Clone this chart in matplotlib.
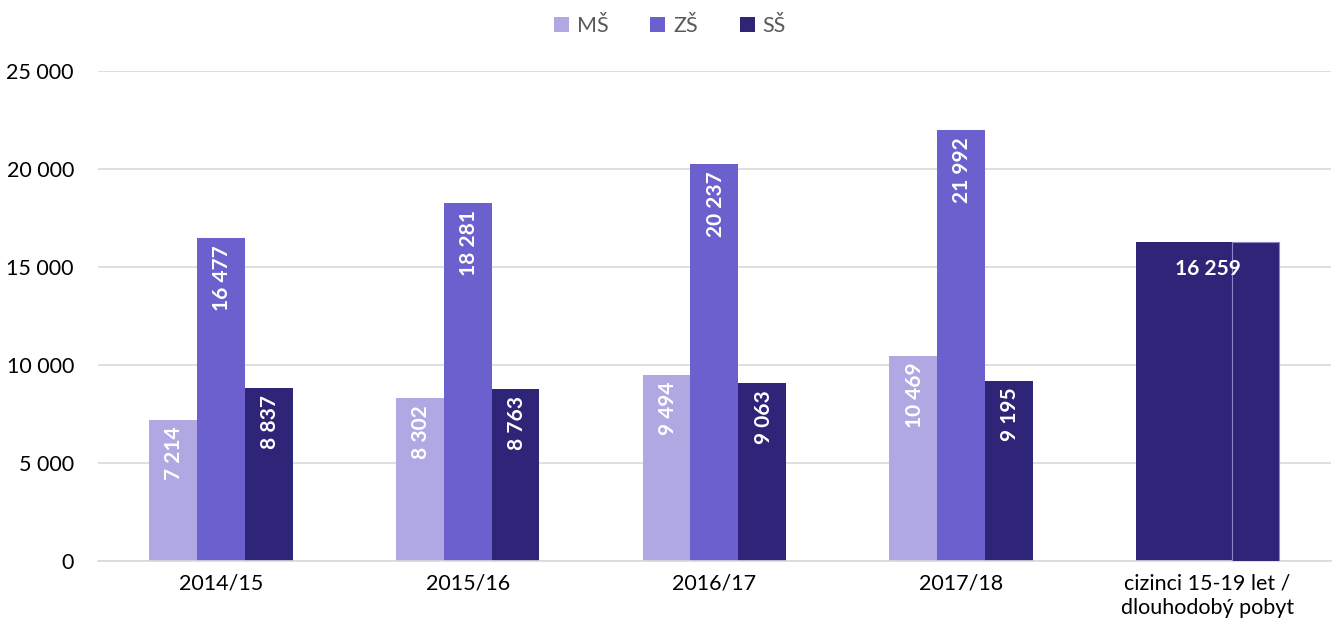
import matplotlib
matplotlib.use("Agg")
import matplotlib.pyplot as plt
import numpy as np

plt.rcParams['font.family'] = ['Lato', 'DejaVu Sans']

categories = ["2014/15", "2015/16", "2016/17", "2017/18", "cizinci 15-19 let /\ndlouhodobý pobyt"]
ms_vals = [7214, 8302, 9494, 10469]
zs_vals = [16477, 18281, 20237, 21992]
ss_vals = [8837, 8763, 9063, 9195]
foreign_val = 16259
yticks = [0, 5000, 10000, 15000, 20000, 25000]

def fmt(v):
    return f"{v:,}".replace(",", " ")

c_ms = "#B0A8E3"
c_zs = "#6B60CD"
c_ss = "#2E2578"

fig = plt.figure(figsize=(13.33, 6.33), dpi=100)
ax = fig.add_axes([0.0732, 0.1137, 0.9253, 0.7741])

x = np.arange(len(ms_vals))
w = 0.194

b1 = ax.bar(x - w, ms_vals, w, color=c_ms, label="MŠ", zorder=2)
b2 = ax.bar(x, zs_vals, w, color=c_zs, label="ZŠ", zorder=2)
b3 = ax.bar(x + w, ss_vals, w, color=c_ss, label="SŠ", zorder=2)

# last category: wide bar plus SŠ bar outline
xl = len(ms_vals)
ax.bar(xl, foreign_val, 3 * w, color=c_ss, zorder=2)
ax.bar(xl + w, foreign_val, w, color=c_ss, edgecolor="#8C84C8", linewidth=0.8, zorder=3)
ax.annotate(fmt(foreign_val), (xl, foreign_val), xytext=(0, -12), textcoords="offset points",
            ha="center", va="top", color="white", fontsize=15, fontweight="bold", zorder=4)

for bars, vals in [(b1, ms_vals), (b2, zs_vals), (b3, ss_vals)]:
    for bar, v in zip(bars, vals):
        ax.annotate(fmt(v), (bar.get_x() + bar.get_width() / 2, v), xytext=(1, -5),
                    textcoords="offset points", ha="center", va="top", rotation=90,
                    color="white", fontsize=15, fontweight="bold", zorder=4)

ax.set_xlim(-0.5, len(categories) - 0.5)
ax.set_ylim(0, 25000)
ax.set_yticks(yticks)
ax.set_yticklabels([fmt(v) for v in yticks], fontsize=15.5, color="#000000")
ax.set_xticks(np.arange(len(categories)))
ax.set_xticklabels(categories, fontsize=15.5, color="#000000", linespacing=1.25)
ax.tick_params(axis="both", length=0)
ax.tick_params(axis="y", pad=17)
ax.tick_params(axis="x", pad=9)
ax.grid(axis="y", color="#D9D9D9", linewidth=1.2, zorder=0)
ax.set_axisbelow(True)
for s in ["top", "right", "left"]:
    ax.spines[s].set_visible(False)
ax.spines["bottom"].set_color("#D9D9D9")
ax.spines["bottom"].set_linewidth(1.2)

fig.legend(handles=[b1, b2, b3], labels=["MŠ", "ZŠ", "SŠ"], loc="upper center",
           bbox_to_anchor=(0.5025, 1.005), ncol=3, frameon=False, fontsize=15.5,
           handlelength=0.7, handleheight=0.7, handletextpad=0.35, columnspacing=1.95,
           labelcolor="#595959")

fig.savefig("out.png", dpi=100)
